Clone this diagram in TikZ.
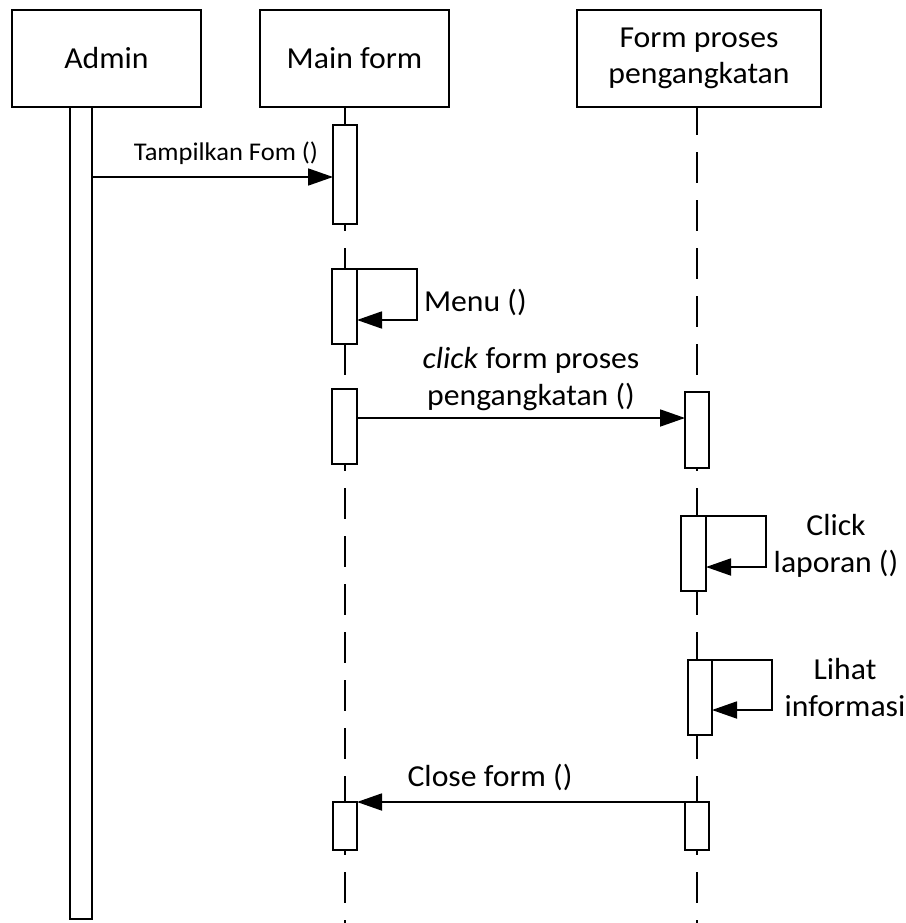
\documentclass[tikz,border=0pt]{standalone}
\usepackage{fontspec}
\setmainfont[FakeStretch=1.04]{Carlito}
\usetikzlibrary{arrows.meta,calc}
\begin{document}
\begin{tikzpicture}[x=1pt,y=-1pt,
  every node/.style={inner sep=0pt, outer sep=0pt},
  head/.style={draw, line width=1.8pt, align=center, minimum height=97pt, font=\fontsize{30.5}{36}\selectfont},
  act/.style={draw, fill=white, line width=1.8pt, minimum width=24pt, anchor=north},
  life/.style={line width=1.8pt, dash pattern=on 31pt off 17pt, dash phase=3pt},
  msg/.style={line width=1.8pt, -{Triangle[length=25pt,width=17pt]}},
  lbl/.style={font=\fontsize{30.5}{37}\selectfont, align=center},
  slbl/.style={font=\fontsize{25.5}{30}\selectfont, align=center}]
\useasboundingbox (0,0) rectangle (905,923);
% headers
\node[head, minimum width=189pt] (admin) at (106.5,58.5) {Admin};
\node[head, minimum width=189pt] (main) at (354.5,58.5) {Main form};
\node[head, minimum width=244pt] (fpp) at (699,58.5) {Form proses\\pengangkatan};
% lifeline ends
\coordinate (mainend) at (345,923);
\coordinate (fppend) at (697,923);
\draw[life] (345,107) -- (mainend);
\draw[life] (697,107) -- (fppend);
% admin bar
\node[act, minimum width=22pt, minimum height=812pt] (abar) at (81,107) {};
% activations main form
\node[act, minimum height=99pt] (m1) at (345,125) {};
\node[act, minimum width=25pt, minimum height=75pt] (m2) at (344.5,269) {};
\node[act, minimum width=25pt, minimum height=75pt] (m3) at (344.5,389) {};
\node[act, minimum height=48pt] (m4) at (345,802) {};
% activations form proses
\node[act, minimum height=76pt] (f1) at (697,392) {};
\node[act, minimum width=25pt, minimum height=75pt] (f2) at (693.5,516) {};
\node[act, minimum height=75pt] (f3) at (700,660) {};
\node[act, minimum height=48pt] (f4) at (697,802) {};
% message anchors
\coordinate (y1) at (0,177);
\coordinate (y3) at (0,418);
% messages
\draw[msg] (abar.east |- y1) -- (m1.west |- y1);
\node[slbl] (l1) at (226,153) {Tampilkan Fom ()};
% Menu self loop
\coordinate (mr) at (417,320);
\draw[msg] (m2.north east) -| (mr) -- (m2.east |- mr);
\node[lbl, anchor=west] (l2) at (424,302) {Menu ()};
% click form proses
\draw[msg] (m3.east |- y3) -- (f1.west |- y3);
\node[lbl] (l3) at (531,379.5) {\textit{click} form proses\\pengangkatan ()};
% Click laporan self loop
\coordinate (fr2) at (766,567);
\draw[msg] (f2.north east) -| (fr2) -- (f2.east |- fr2);
\node[lbl] (l4) at (836,546) {Click\\laporan ()};
% Lihat informasi self loop
\coordinate (fr3) at (772,710);
\draw[msg] (f3.north east) -| (fr3) -- (f3.east |- fr3);
\node[lbl] (l5) at (845,688) {Lihat\\informasi};
% Close form
\draw[msg] (f4.north west) -- (m4.north east);
\node[lbl] (l6) at (490,777) {Close form ()};
\end{tikzpicture}
\end{document}
